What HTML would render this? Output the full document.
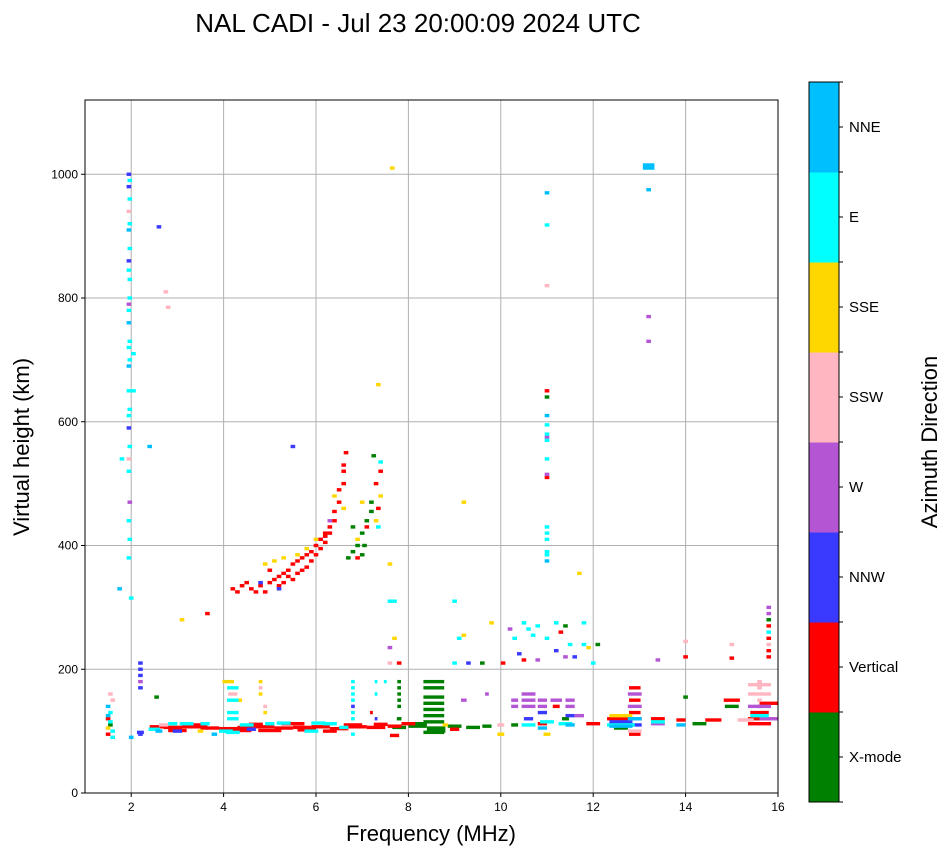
<!DOCTYPE html>
<html><head><meta charset="utf-8"><style>
body{margin:0;background:#fff;font-family:"Liberation Sans",sans-serif}
svg text{font-family:"Liberation Sans",sans-serif}
</style></head><body>
<svg id="chart" width="951" height="856" xmlns="http://www.w3.org/2000/svg">
<text x="418" y="32" font-size="26" text-anchor="middle">NAL CADI - Jul 23 20:00:09 2024 UTC</text>
<g id="grid"></g>
<g id="marks"></g>
<rect x="85" y="100" width="693" height="693" fill="none" stroke="#000" stroke-width="1"/>
<g id="axes"></g>
<text x="431" y="841" font-size="22" text-anchor="middle">Frequency (MHz)</text>
<text transform="translate(29,447) rotate(-90)" font-size="22" text-anchor="middle">Virtual height (km)</text>
<g id="cbar"></g>
<text transform="translate(937,442) rotate(-90)" font-size="22" text-anchor="middle">Azimuth Direction</text>
</svg>
<script>
const dirNames=["X-mode","Vertical","NNW","W","SSW","SSE","E","NNE"];
const dirColors=["#008000","#ff0000","#3a3aff","#b455d4","#ffb6c1","#ffd700","#00ffff","#00bfff"];
const xTicks=[2,4,6,8,10,12,14,16];
const yTicks=[0,200,400,600,800,1000];
// narrow echoes per direction: [frequency MHz, virtual height km]
const echoesXmode=[[1.55,110],[2.55,155],[6.7,380],[6.8,390],[6.9,400],[7.0,420],[7.1,440],[7.2,470],[7.25,545],[7.0,385],[7.2,455],[9.6,210],[11.4,270],[12.1,240],[11,640],[14.0,155],[15.8,280],[6.8,430],[7.05,400]];
const echoesVertical=[[4.2,330],[4.3,325],[4.4,335],[4.5,340],[4.6,330],[4.7,325],[4.8,335],[4.9,325],[5.0,340],[5.1,345],[5.2,335],[5.3,340],[5.4,350],[5.5,345],[5.6,355],[5.7,360],[5.8,365],[5.9,375],[6.0,385],[6.1,395],[6.2,405],[6.3,420],[6.4,440],[6.5,470],[6.6,500],[6.6,530],[6.65,550],[5.3,355],[5.5,370],[5.7,380],[5.9,390],[6.1,410],[6.2,420],[6.3,430],[6.4,455],[6.5,490],[6.6,520],[5.0,360],[5.2,350],[5.4,360],[5.6,375],[5.8,385],[6.0,400],[6.2,415],[1.5,120],[1.5,95],[3.65,290],[7.3,500],[7.35,460],[7.4,520],[7.1,430],[6.9,380],[7.8,210],[10.05,210],[10.5,215],[11.3,260],[11,650],[11,510],[14.0,220],[15.0,218],[15.8,270],[15.8,250],[15.8,230],[15.8,220]];
const echoesNNW=[[1.95,1000],[1.95,980],[1.95,860],[1.95,590],[2.2,210],[2.2,200],[2.2,190],[2.2,170],[2.2,95],[2.6,915],[5.5,560],[5.2,330],[4.8,340],[9.3,210],[10.4,225],[11.2,230],[11.6,220]];
const echoesW=[[1.95,790],[1.97,470],[2.2,180],[6.3,440],[7.6,235],[10.2,265],[10.8,215],[11,575],[11,515],[11.4,220],[13.2,770],[13.2,730],[13.4,215],[15.6,140],[15.8,300],[15.8,290]];
const echoesSSW=[[1.6,150],[1.55,160],[1.95,940],[1.95,540],[2.75,810],[2.8,785],[7.6,210],[11,820],[14.0,245],[15.0,240],[15.6,180],[15.6,170],[15.6,150],[15.8,240]];
const echoesSSE=[[1.5,105],[4.9,370],[5.1,375],[5.3,380],[5.6,385],[5.8,395],[6.0,410],[6.4,480],[6.6,460],[6.9,410],[7.6,370],[7.0,470],[7.3,440],[7.4,480],[7.7,250],[7.65,1010],[7.35,660],[9.2,470],[9.2,255],[9.8,275],[11.7,355],[11.9,235],[3.1,280]];
const echoesE=[[1.55,130],[1.6,100],[1.6,90],[1.55,115],[1.97,990],[1.97,960],[1.97,920],[1.97,880],[1.95,845],[1.97,830],[1.97,800],[1.95,780],[1.97,730],[1.95,720],[1.97,700],[1.95,650],[1.97,620],[1.95,610],[1.97,560],[1.95,520],[1.95,440],[1.97,410],[1.95,380],[2.05,710],[2.05,650],[1.8,540],[2.0,315],[7.4,535],[7.35,430],[7.6,310],[7.7,310],[9.0,310],[9.1,250],[9.0,210],[10.5,275],[10.6,265],[10.7,255],[10.8,270],[10.3,250],[11.0,250],[11.2,275],[11.5,240],[11.8,275],[11.8,240],[12.0,210],[11,918],[11,595],[11,580],[11,570],[11,540],[11,430],[11,420],[11,410],[11,390],[11,385],[15.8,260]];
const echoesNNE=[[1.5,140],[1.95,910],[1.95,690],[2.0,90],[2.4,560],[1.75,330],[11,970],[11,610],[11,375],[13.2,975],[1.5,125],[1.95,760]];
// wide echoes per direction: [centre frequency MHz, height km, span MHz]
const wideXmode=[[7.8,106,0.3],[8.2,108,0.4],[8.6,105,0.4],[9.0,108,0.3],[9.4,106,0.3],[9.7,108,0.2],[8.2,112,0.4],[8.6,100,0.4],[7.8,180,0.08],[7.8,170,0.08],[7.8,160,0.08],[7.8,150,0.08],[7.8,140,0.08],[7.8,120,0.1],[8.55,180,0.45],[8.55,170,0.45],[8.55,155,0.45],[8.55,145,0.45],[8.55,135,0.45],[8.55,125,0.45],[8.55,115,0.45],[8.55,98,0.45],[10.3,110,0.15],[11.4,120,0.15],[14.3,112,0.3],[15.0,140,0.3],[12.6,105,0.3]];
const wideVertical=[[2.55,107,0.3],[2.9,106,0.4],[3.3,107,0.4],[3.7,105,0.4],[4.1,104,0.4],[4.5,106,0.4],[4.9,107,0.4],[5.3,105,0.4],[5.7,106,0.4],[6.1,107,0.4],[6.5,104,0.4],[6.9,107,0.4],[7.3,106,0.4],[7.7,108,0.3],[3.4,110,0.5],[4.4,101,0.4],[5.5,112,0.5],[6.3,100,0.3],[3.0,101,0.4],[5.0,101,0.5],[5.8,102,0.4],[6.8,110,0.4],[7.4,111,0.3],[4.7,111,0.3],[8.0,112,0.3],[9.0,103,0.2],[7.7,93,0.2],[7.2,130,0.06],[10.9,112,0.2],[11.2,140,0.15],[12.0,112,0.3],[12.6,120,0.6],[12.9,170,0.25],[12.9,150,0.25],[12.9,130,0.25],[12.9,95,0.25],[13.4,120,0.3],[13.9,118,0.2],[14.6,118,0.35],[15.0,150,0.35],[15.6,112,0.5],[15.6,120,0.5],[15.6,130,0.4],[15.8,145,0.4]];
const wideNNW=[[2.2,98,0.15],[3.0,100,0.2],[4.6,103,0.2],[6.8,140,0.08],[7.3,120,0.06],[10.9,130,0.2],[11.5,125,0.2],[12.9,110,0.3],[12.6,115,0.5],[10.6,120,0.2]];
const wideW=[[10.3,150,0.15],[10.3,140,0.15],[10.6,160,0.3],[10.6,150,0.3],[10.6,140,0.3],[10.9,150,0.2],[10.9,140,0.2],[11.2,150,0.25],[11.5,150,0.2],[11.5,140,0.2],[11.7,125,0.2],[12.9,160,0.3],[12.9,140,0.3],[12.9,120,0.3],[13.4,112,0.3],[15.6,140,0.5],[15.8,120,0.4],[9.2,150,0.12],[9.7,160,0.08]];
const wideSSW=[[2.7,110,0.2],[4.2,160,0.2],[4.8,170,0.08],[4.9,140,0.08],[15.3,118,0.35],[15.6,175,0.5],[15.6,160,0.5],[12.9,100,0.3],[10.0,110,0.15]];
const wideSSE=[[4.1,180,0.25],[4.3,150,0.2],[4.8,180,0.08],[4.8,160,0.08],[4.9,130,0.08],[3.5,100,0.12],[12.6,125,0.5],[10.0,95,0.15],[11.0,95,0.15],[8.8,110,0.12]];
const wideE=[[2.5,103,0.25],[2.9,112,0.2],[3.6,112,0.2],[4.05,100,0.3],[4.5,110,0.3],[5.0,112,0.2],[5.9,100,0.3],[6.3,112,0.3],[6.6,106,0.2],[6.05,113,0.3],[3.2,112,0.3],[4.2,98,0.3],[5.3,113,0.3],[4.2,170,0.25],[4.2,150,0.25],[4.2,130,0.25],[4.2,120,0.25],[6.8,180,0.08],[6.8,170,0.08],[6.8,160,0.08],[6.8,150,0.08],[6.8,130,0.08],[6.8,120,0.08],[6.8,95,0.08],[7.3,180,0.06],[7.3,160,0.06],[7.5,180,0.06],[10.6,110,0.3],[11.0,115,0.3],[11.4,112,0.3],[12.6,110,0.6],[13.4,115,0.3],[15.6,125,0.4]];
const wideNNE=[[2.6,100,0.15],[3.8,95,0.12],[10.9,105,0.2],[11.5,110,0.2],[12.6,108,0.5],[12.9,120,0.3],[13.9,110,0.2],[13.2,1015,0.25],[13.2,1010,0.25]];
const narrowSets=[echoesXmode,echoesVertical,echoesNNW,echoesW,echoesSSW,echoesSSE,echoesE,echoesNNE];
const wideSets=[wideXmode,wideVertical,wideNNW,wideW,wideSSW,wideSSE,wideE,wideNNE];
const NS="http://www.w3.org/2000/svg";
const X0=85,X1=778,Y0=793,Y1=100;
const xScale=f=>X0+(f-1)/(16-1)*(X1-X0);
const yScale=h=>Y0-h/1120*(Y0-Y1);
function mk(tag,attrs,parent){const e=document.createElementNS(NS,tag);for(const k in attrs)e.setAttribute(k,attrs[k]);parent.appendChild(e);return e;}
const grid=document.getElementById('grid'),axes=document.getElementById('axes'),marks=document.getElementById('marks'),cbar=document.getElementById('cbar');
xTicks.forEach(t=>{const x=xScale(t);
const g=mk('line',{x1:x,x2:x,y1:Y1,y2:Y0,stroke:'#b0b0b0','stroke-width':1},grid);

const tk=mk('line',{x1:x,x2:x,y1:Y0,y2:Y0+4,stroke:'#000'},axes);

const tl=mk('text',{x:x,y:Y0+18,'font-size':12,'text-anchor':'middle'},axes);tl.textContent=t;
});
yTicks.forEach(t=>{const y=yScale(t);
const g=mk('line',{x1:X0,x2:X1,y1:y,y2:y,stroke:'#b0b0b0','stroke-width':1},grid);

const tk=mk('line',{x1:X0-4,x2:X0,y1:y,y2:y,stroke:'#000'},axes);

const tl=mk('text',{x:X0-7,y:y+4,'font-size':12,'text-anchor':'end'},axes);tl.textContent=t;
});
const hPx=3.4;
wideSets.forEach((set,c)=>set.forEach(p=>{const x=xScale(p[0]-p[2]/2),w=xScale(p[0]+p[2]/2)-x;
const r=mk('rect',{x:x,y:yScale(p[1])-hPx/2,width:w,height:hPx,fill:dirColors[c]},marks);
}));
narrowSets.forEach((set,c)=>set.forEach(p=>{const w=0.1;const x=xScale(p[0]-w/2);
const r=mk('rect',{x:x,y:yScale(p[1])-hPx/2,width:xScale(p[0]+w/2)-x,height:hPx,fill:dirColors[c]},marks);
}));
const cbX=809,cbW=30,cbTop=82,cbBot=802,seg=(cbBot-cbTop)/8;
dirNames.forEach((n,i)=>{const y=cbBot-(i+1)*seg;
const r=mk('rect',{x:cbX,y:y,width:cbW,height:seg+0.5,fill:dirColors[i]},cbar);

const tk=mk('line',{x1:cbX+cbW,x2:cbX+cbW+4,y1:y+seg/2,y2:y+seg/2,stroke:'#000'},cbar);

const tl=mk('text',{x:cbX+cbW+10,y:y+seg/2+5,'font-size':15},cbar);tl.textContent=n;
});
for(let i=0;i<=8;i++){const y=cbTop+i*seg;const tk=mk('line',{x1:cbX+cbW,x2:cbX+cbW+4,y1:y,y2:y,stroke:'#000'},cbar);
}
const fr=mk('rect',{x:cbX,y:cbTop,width:cbW,height:cbBot-cbTop,fill:'none',stroke:'#000'},cbar);

</script>
</body></html>
